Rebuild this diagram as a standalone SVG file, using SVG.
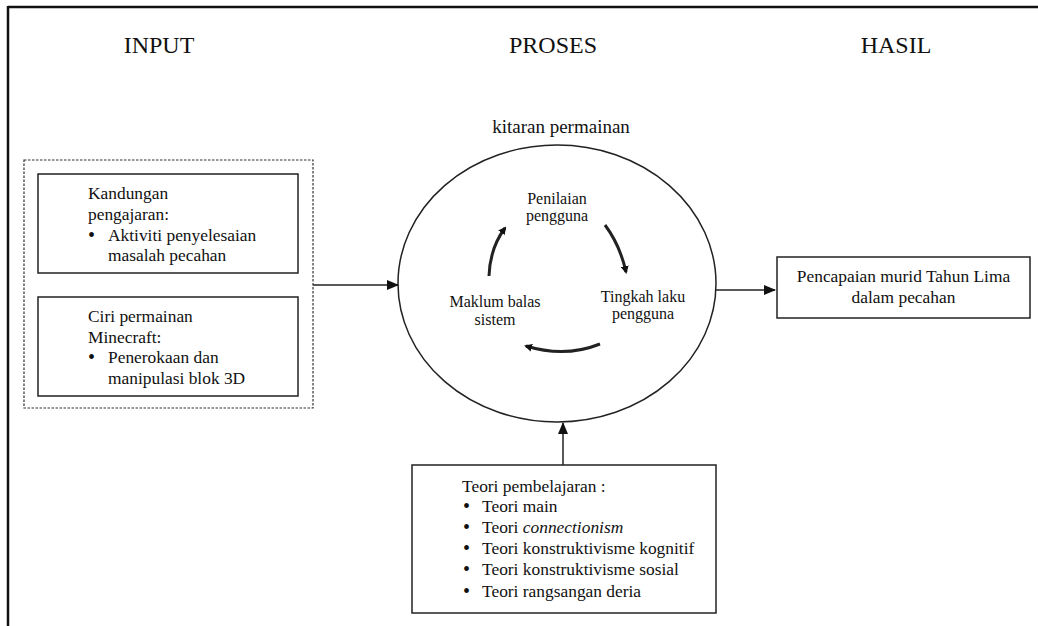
<svg xmlns="http://www.w3.org/2000/svg" width="1038" height="626" viewBox="0 0 1038 626">
<style>
text{font-family:'Liberation Serif','Tinos','Times New Roman','DejaVu Serif',serif;fill:#111}
.h{font-size:24px}
.t{font-size:17.4px}
.c{font-size:16px}
.b{font-size:20px}
.box{fill:#fff;stroke:#222;stroke-width:1.5}
.ln{stroke:#222;stroke-width:1.5;fill:none}
.cy{stroke:#222;stroke-width:3;fill:none}
</style>
<defs>
<marker id="ah" markerWidth="12" markerHeight="10" refX="11" refY="5" orient="auto" markerUnits="userSpaceOnUse">
<path d="M0,0 L12,5 L0,10 Z" fill="#111"/>
</marker>
<marker id="ch" markerWidth="8" markerHeight="8" refX="6" refY="4" orient="auto" markerUnits="userSpaceOnUse">
<path d="M0,0 L8,4 L0,8 Z" fill="#111"/>
</marker>
</defs>
<g id="frame">
<line x1="8" y1="7" x2="1038" y2="7" stroke="#111" stroke-width="2.5"/>
<line x1="8" y1="6" x2="8" y2="626" stroke="#111" stroke-width="2.5"/>
</g>
<g id="headers">
<text class="h" x="159" y="53" text-anchor="middle">INPUT</text>
<text class="h" x="553" y="53" text-anchor="middle">PROSES</text>
<text class="h" x="896" y="53" text-anchor="middle">HASIL</text>
<text x="561" y="133" text-anchor="middle" style="font-size:19px">kitaran permainan</text>
</g>
<g id="input">
<rect x="24" y="160" width="289" height="248" fill="none" stroke="#333" stroke-width="1.2" stroke-dasharray="2.5,1.5"/>
<g id="kandungan">
<rect class="box" x="38" y="174" width="260" height="99"/>
<text class="t" x="88" y="199">Kandungan</text>
<text class="t" x="88" y="220">pengajaran:</text>
<text class="b" x="88" y="241.5">•</text>
<text class="t" x="108" y="240.5">Aktiviti penyelesaian</text>
<text class="t" x="108" y="261">masalah pecahan</text>
</g>
<g id="ciri">
<rect class="box" x="38" y="297" width="260" height="99"/>
<text class="t" x="88" y="322">Ciri permainan</text>
<text class="t" x="88" y="342.5">Minecraft:</text>
<text class="b" x="88" y="364">•</text>
<text class="t" x="108" y="363">Penerokaan dan</text>
<text class="t" x="108" y="383.5">manipulasi blok 3D</text>
</g>
</g>
<g id="proses">
<ellipse cx="557" cy="283.5" rx="159" ry="138.5" fill="#fff" stroke="#222" stroke-width="1.5"/>
<text class="c" x="557" y="204" text-anchor="middle">Penilaian</text>
<text class="c" x="557" y="221" text-anchor="middle">pengguna</text>
<text class="c" x="643" y="302" text-anchor="middle">Tingkah laku</text>
<text class="c" x="643" y="319" text-anchor="middle">pengguna</text>
<text class="c" x="495" y="307" text-anchor="middle">Maklum balas</text>
<text class="c" x="495" y="325" text-anchor="middle">sistem</text>
</g>
<g id="hasil">
<rect class="box" x="777" y="257" width="253" height="61"/>
<text class="t" x="903.5" y="282" text-anchor="middle">Pencapaian murid Tahun Lima</text>
<text class="t" x="903.5" y="303" text-anchor="middle">dalam pecahan</text>
</g>
<g id="teori">
<rect class="box" x="412" y="465" width="304" height="148"/>
<text class="t" x="462" y="492">Teori pembelajaran :</text>
<text class="b" x="463" y="513">•</text><text class="t" x="482" y="512">Teori main</text>
<text class="b" x="463" y="534">•</text><text class="t" x="482" y="533">Teori <tspan font-style="italic">connectionism</tspan></text>
<text class="b" x="463" y="555">•</text><text class="t" x="482" y="554">Teori konstruktivisme kognitif</text>
<text class="b" x="463" y="576">•</text><text class="t" x="482" y="575">Teori konstruktivisme sosial</text>
<text class="b" x="463" y="598">•</text><text class="t" x="482" y="597">Teori rangsangan deria</text>
</g>
<g id="connectors">
<line class="ln" x1="313" y1="285" x2="398" y2="285" marker-end="url(#ah)"/>
<line class="ln" x1="716" y1="290" x2="775" y2="290" marker-end="url(#ah)"/>
<line class="ln" x1="563" y1="465" x2="563" y2="423" marker-end="url(#ah)"/>
<path class="cy" d="M605,225 Q620,245 626,272" marker-end="url(#ch)"/>
<path class="cy" d="M600,344 Q565,358 526,346" marker-end="url(#ch)"/>
<path class="cy" d="M489,276 Q490,248 505,228" marker-end="url(#ch)"/>
</g>
</svg>
